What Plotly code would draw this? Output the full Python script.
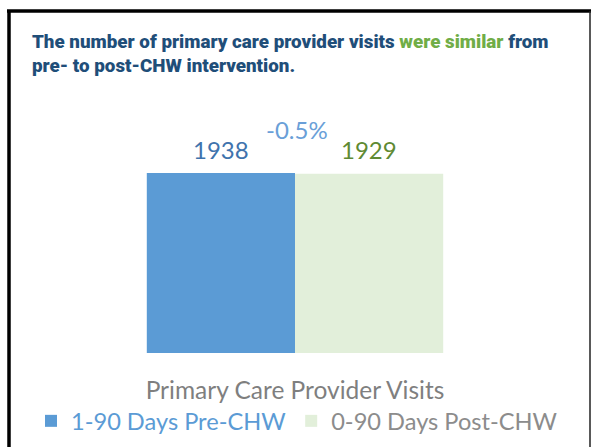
import plotly.graph_objects as go

categories = ["Primary Care Provider Visits"]
series_names = ["1-90 Days Pre-CHW", "0-90 Days Post-CHW"]
pre_values = [1938]
post_values = [1929]

W, H = 596, 447
L, R, T, B = 8, 6, 110, 94
PW, PH = W - L - R, H - T - B
BARGAP = 0.24

def px(x):
    return (x - L) / PW

def py(y):
    return (H - B - y) / PH

blue = "#5b9bd5"
green_bar = "#e2efda"
FONT = "Lato"

fig = go.Figure()
fig.add_trace(go.Bar(
    x=categories, y=pre_values, name=f"<span style='color:#5b9bd5'>{series_names[0]}</span>",
    marker=dict(color=blue, line=dict(width=0)),
))
fig.add_trace(go.Bar(
    x=categories, y=post_values, name=f"<span style='color:#8c8c8c'>{series_names[1]}</span>",
    marker=dict(color=green_bar, line=dict(width=0)),
))

# value labels above each bar, anchored to the data values
x0_dom, x1_dom = px(100), px(490)
bar_w = (x1_dom - x0_dom) * PW * (1 - BARGAP) / 2
for vals, sign, col in [(pre_values, -1, "#3f73ad"), (post_values, 1, "#5f8a33")]:
    for c, v in zip(categories, vals):
        fig.add_annotation(
            x=c, y=v, xref="x", yref="y", text=str(v), showarrow=False,
            xshift=sign * bar_w / 2, yshift=24, xanchor="center", yanchor="middle",
            font=dict(color=col, size=24, family=FONT),
        )

pct = (post_values[0] - pre_values[0]) / pre_values[0] * 100
fig.add_annotation(
    x=px(297), y=py(129), xref="paper", yref="paper",
    text=f"{pct:.1f}%", showarrow=False,
    font=dict(color="#6a9fd8", size=24, family=FONT),
    xanchor="center", yanchor="middle",
)

# frame
fig.add_shape(type="line", xref="paper", yref="paper",
              x0=px(9), x1=px(9), y0=py(10), y1=py(460),
              line=dict(color="black", width=3.5))
fig.add_shape(type="line", xref="paper", yref="paper",
              x0=px(7), x1=px(591), y0=py(11), y1=py(11),
              line=dict(color="black", width=3.5))
fig.add_shape(type="line", xref="paper", yref="paper",
              x0=px(590), x1=px(590), y0=py(11), y1=py(460),
              line=dict(color="#222222", width=1.5))

title_text = ("The number of primary care provider visits "
              "<span style='color:#70ad47'>were similar</span> from<br>"
              "pre- to post-CHW intervention.")
fig.update_layout(
    width=W, height=H,
    margin=dict(l=L, r=R, t=T, b=B, pad=0, autoexpand=False),
    paper_bgcolor="white", plot_bgcolor="white",
    barmode="group", bargap=BARGAP, bargroupgap=0,
    title=dict(text=title_text, x=32 / W, xanchor="left", xref="container",
               y=1 - 48 / H, yanchor="top", yref="container",
               font=dict(family="Roboto", size=18.8, weight=900, color="#1f4e79")),
    showlegend=True,
    legend=dict(orientation="h", x=297 / W, xanchor="center", xref="container",
                y=1 - 421 / H, yanchor="middle", yref="container",
                font=dict(family=FONT, size=23.6, color="#8c8c8c"),
                bgcolor="rgba(0,0,0,0)", itemwidth=30),
    xaxis=dict(domain=[x0_dom, x1_dom], showline=False, showgrid=False, ticks="",
               tickfont=dict(family=FONT, size=24.5, color="#7f7f7f"),
               ticklabelstandoff=20, automargin=False),
    yaxis=dict(visible=False, range=[0, 1938 * PH / 180], automargin=False),
)

fig.write_html("out.html", post_script="document.body.style.margin='0';",
               config={"displayModeBar": False})
